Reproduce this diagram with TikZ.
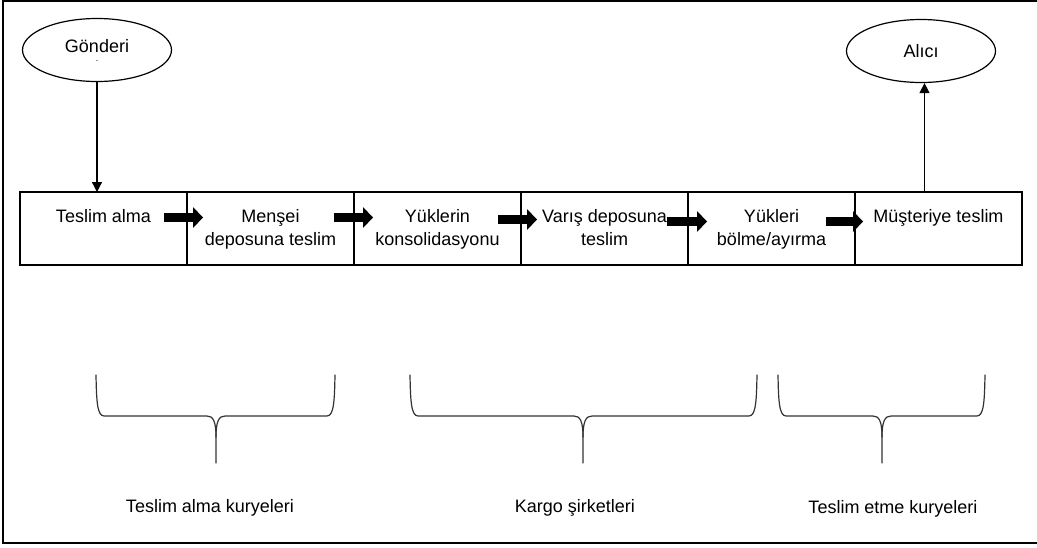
\documentclass[tikz,border=0pt]{standalone}
\usepackage{fontspec}
\setmainfont{Liberation Sans}
\usetikzlibrary{positioning,arrows.meta,shapes.geometric,calc}
\newcommand\stagefont{\fontsize{18}{23}\selectfont}
\tikzset{
    % process steps
    stage/.style={
        draw,
        line width=1.2pt,
        outer sep=0pt,
        minimum width=167pt,
        minimum height=73pt,
        label={[stagetext]north:#1}
    },
    stagetext/.style={anchor=north, yshift=-17pt, inner sep=0pt, align=center, font=\stagefont},
    % sender / receiver
    party/.style={
        ellipse,
        draw,
        line width=1.2pt,
        minimum width=149pt,
        minimum height=63pt,
        inner sep=0pt,
        align=center,
        font=\stagefont
    },
    % connectors
    link/.style={line width=1.2pt, -{Triangle[length=10pt,width=10pt]}},
    flow/.style={line width=9pt, -{Triangle[length=10pt,width=21pt,line width=0pt]}},
    curly/.style={line width=1.2pt, draw=black!80, line cap=round},
    grouptext/.style={font=\stagefont}
}
\begin{document}
\begin{tikzpicture}[x=1pt, y=-1pt]
\useasboundingbox (0,0) rectangle (1037,547);
\draw[line width=1.4pt] (1045,1) -- (3,1) -- (3,543) -- (1045,543);

% ellipses
\node[party] (gonderi) at (97,50) {Gönderi\\[-14pt]{\fontsize{9}{9}\selectfont .}};
\node[party] (alici) at (921,51) {Alıcı};

% process chain
\node[stage={Teslim alma}, anchor=west] (b1) at (20,228.5) {};
\node[stage={Menşei\\deposuna teslim}, right=0pt of b1] (b2) {};
\node[stage={Yüklerin\\konsolidasyonu}, right=0pt of b2] (b3) {};
\node[stage={Varış deposuna\\teslim}, right=0pt of b3] (b4) {};
\node[stage={Yükleri\\bölme/ayırma}, right=0pt of b4] (b5) {};
\node[stage={Müşteriye teslim}, right=0pt of b5] (b6) {};

\draw[link] (gonderi.south) -- (gonderi.south |- b1.north);
\draw[link] ([xshift=-14pt]b6.north) -- ([xshift=-14pt]b6.north |- alici.south);

\foreach \b/\s/\e/\dy in {b1/23/16/11, b2/20/19/11, b3/23/16/9, b4/21/19/7, b5/29/8/7}
    \draw[flow] ([xshift=-\s pt, yshift=\dy pt]\b.east) -- ([xshift=\e pt, yshift=\dy pt]\b.east);

% braces
\foreach \l/\r/\c in {96/335/216, 410/757/583, 778/985/882}{
    \draw[curly] (\l,375) .. controls (\l+0.5,400) and (\l+1,416) .. (\l+8,416)
        -- (\c-9,416) .. controls (\c-3,416) and (\c,421) .. (\c,437) -- (\c,463);
    \draw[curly] (\c,437) .. controls (\c,421) and (\c+3,416) .. (\c+9,416)
        -- (\r-8,416) .. controls (\r-1,416) and (\r-0.5,400) .. (\r,375);
}

\node[grouptext] (pickup) at (210,508) {Teslim alma kuryeleri};
\node[grouptext] (cargo) at (575,508) {Kargo şirketleri};
\node[grouptext] (delivery) at (893,509) {Teslim etme kuryeleri};
\end{tikzpicture}
\end{document}
